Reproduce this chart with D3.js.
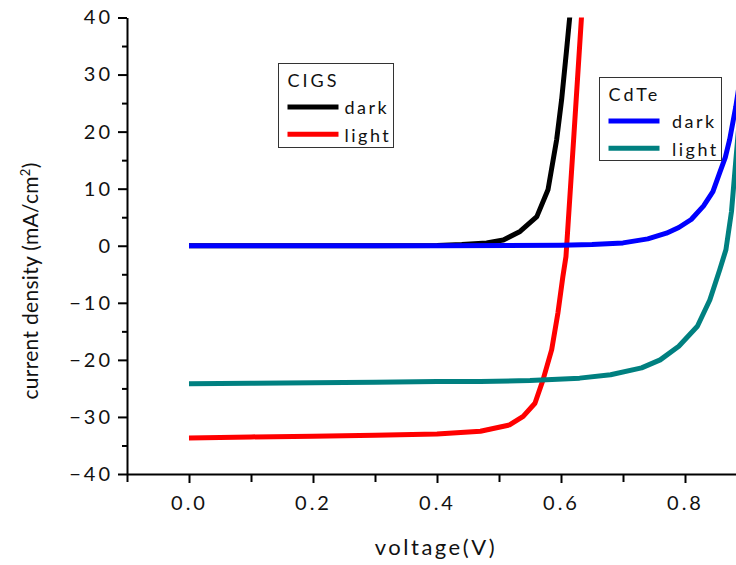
<!DOCTYPE html>
<html>
<head>
<meta charset="utf-8">
<script src="https://cdn.jsdelivr.net/npm/d3@7"></script>
<style>
  body { margin: 0; background: #fff; }
  text { font-family: Lato, "Open Sans", sans-serif; fill: #111; }
</style>
</head>
<body>
<div id="chart"></div>
<script>
// CIGS curves (voltage V, current density mA/cm2)
const cigsDarkV = [0, 0.1, 0.2, 0.3, 0.4, 0.44, 0.48, 0.507, 0.534, 0.561, 0.579, 0.593, 0.601, 0.609, 0.614, 0.62];
const cigsDarkJ = [0, 0, 0, 0, 0.05, 0.2, 0.5, 1, 2.5, 5.1, 9.8, 18.6, 25.6, 34.3, 40, 48];
const cigsLightV = [0, 0.1, 0.2, 0.3, 0.4, 0.47, 0.517, 0.539, 0.558, 0.571, 0.585, 0.595, 0.603, 0.608, 0.621, 0.633, 0.64];
const cigsLightJ = [-33.7, -33.5, -33.4, -33.2, -33.0, -32.5, -31.4, -29.9, -27.6, -23.5, -18.2, -11.8, -5.4, -1.9, 19.7, 40, 50];

// CdTe curves
const cdteDarkV = [0, 0.2, 0.4, 0.6, 0.65, 0.7, 0.74, 0.77, 0.79, 0.81, 0.83, 0.845, 0.856, 0.865, 0.872, 0.882, 0.89];
const cdteDarkJ = [0, 0, 0, 0.1, 0.2, 0.5, 1.2, 2.2, 3.2, 4.6, 7.0, 9.5, 12.8, 15.5, 18.6, 24.4, 30];
const cdteLightV = [0, 0.1, 0.2, 0.3, 0.4, 0.47, 0.55, 0.63, 0.68, 0.73, 0.76, 0.79, 0.82, 0.84, 0.856, 0.866, 0.875, 0.882, 0.89];
const cdteLightJ = [-24.2, -24.1, -24.0, -23.9, -23.8, -23.8, -23.6, -23.2, -22.6, -21.4, -20, -17.6, -14.1, -9.5, -4.2, -0.7, 6, 15, 25];

const xTicks = [0, 0.2, 0.4, 0.6, 0.8];
const yTicks = [-40, -30, -20, -10, 0, 10, 20, 30, 40];

const series = [
    {v: cigsDarkV, j: cigsDarkJ, color: "#000000"},
    {v: cigsLightV, j: cigsLightJ, color: "#ff0000"},
    {v: cdteDarkV, j: cdteDarkJ, color: "#0000ff"},
    {v: cdteLightV, j: cdteLightJ, color: "#008080"}
];

const svg = d3.select("#chart").append("svg")
    .attr("width", 736)
    .attr("height", 565);

const x = d3.scaleLinear().domain([-0.1, 0.9]).range([127, 747]);
const y = d3.scaleLinear().domain([-40, 40]).range([474, 17.5]);

svg.append("defs").append("clipPath").attr("id", "plot")
    .append("rect")
    .attr("x", 127).attr("y", 17.5)
    .attr("width", 620).attr("height", 456.5);

const line = d3.line()
    .x(d => x(d[0]))
    .y(d => y(d[1]));

const lines = svg.append("g").attr("clip-path", "url(#plot)");
series.forEach(s => {
    lines.append("path")
        .datum(s.v.map((v, i) => [v, s.j[i]]))
        .attr("fill", "none")
        .attr("stroke", s.color)
        .attr("stroke-width", 5)
        .attr("stroke-linejoin", "round")
        .attr("d", line);
});

// y axis
svg.append("g")
    .attr("transform", "translate(127,0)")
    .call(d3.axisLeft(y).tickValues(yTicks).tickSize(9).tickPadding(5).tickSizeOuter(0));
svg.append("g")
    .attr("transform", "translate(127,0)")
    .call(d3.axisLeft(y).tickValues(d3.range(-35, 40, 10)).tickSize(5).tickFormat("").tickSizeOuter(0))
    .select(".domain").remove();

// x axis
svg.append("g")
    .attr("transform", "translate(0,474)")
    .call(d3.axisBottom(x).tickValues(xTicks).tickSize(9).tickPadding(13).tickFormat(d3.format(".1f")).tickSizeOuter(0));
svg.append("g")
    .attr("transform", "translate(0,474)")
    .call(d3.axisBottom(x).tickValues([-0.1, 0.1, 0.3, 0.5, 0.7]).tickSize(8).tickFormat("").tickSizeOuter(0))
    .select(".domain").remove();

svg.selectAll(".domain").attr("stroke", "#000").attr("stroke-width", 2);
svg.selectAll(".tick line").attr("stroke", "#000").attr("stroke-width", 2);
svg.selectAll(".tick text")
    .style("font-size", "20px")
    .style("letter-spacing", "3px")
    .style("font-family", "Lato, sans-serif")
    .attr("fill", "#111");

// axis titles
svg.append("text")
    .attr("x", 436).attr("y", 555)
    .attr("text-anchor", "middle")
    .style("font-size", "22px")
    .style("letter-spacing", "2.5px")
    .text("voltage(V)");

const yTitle = svg.append("text")
    .attr("transform", "translate(38,281) rotate(-90)")
    .attr("text-anchor", "middle")
    .style("font-size", "21px")
    .style("letter-spacing", "0.3px");
yTitle.append("tspan").text("current density (mA/cm");
yTitle.append("tspan").attr("baseline-shift", "super").style("font-size", "13px").text("2");
yTitle.append("tspan").text(")");

// legends
function legend(x0, y0, w, h, title, textX, items) {
    const g = svg.append("g");
    g.append("rect")
        .attr("x", x0).attr("y", y0).attr("width", w).attr("height", h)
        .attr("fill", "#fff").attr("stroke", "#333").attr("stroke-width", 1);
    g.append("text")
        .attr("x", x0 + 9).attr("y", y0 + 23.5)
        .style("font-size", "18px").style("letter-spacing", "3px")
        .text(title);
    items.forEach((it, i) => {
        const yy = y0 + 43.5 + i * 27.3;
        g.append("line")
            .attr("x1", x0 + 9).attr("x2", x0 + 60)
            .attr("y1", yy).attr("y2", yy)
            .attr("stroke", it.color).attr("stroke-width", 5);
        g.append("text")
            .attr("x", x0 + textX).attr("y", yy + 7.2)
            .style("font-size", "18px").style("letter-spacing", "2.5px")
            .text(it.label);
    });
}

legend(278.5, 63.5, 115, 84, "CIGS", 66, [
    {label: "dark", color: "#000000"},
    {label: "light", color: "#ff0000"}
]);
legend(599.5, 77.5, 122, 83, "CdTe", 72.5, [
    {label: "dark", color: "#0000ff"},
    {label: "light", color: "#008080"}
]);
</script>
</body>
</html>
